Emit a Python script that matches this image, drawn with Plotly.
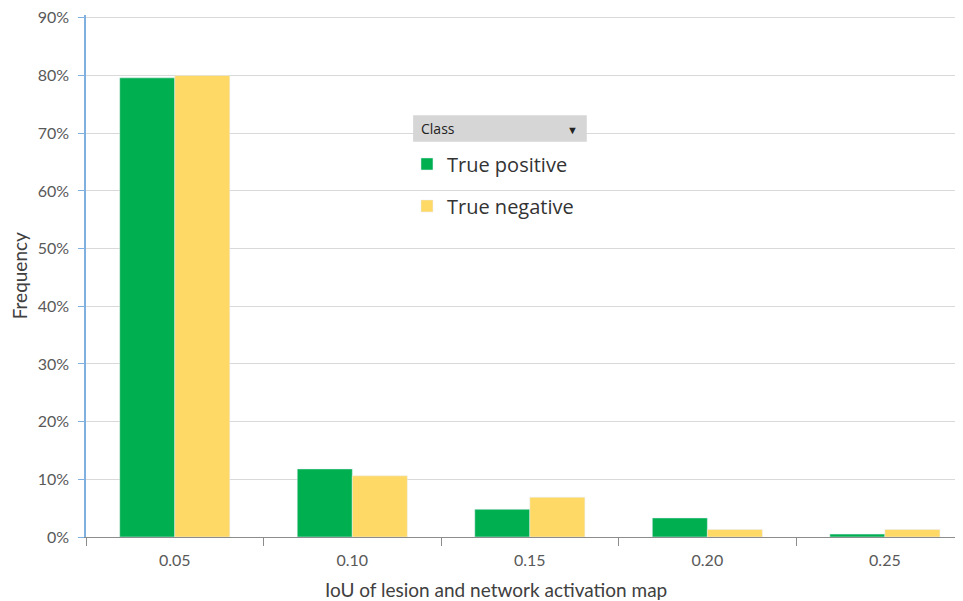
import plotly.graph_objects as go

# 数据
categories = ["0.05", "0.10", "0.15", "0.20", "0.25"]
true_positive = [0.796, 0.118, 0.048, 0.033, 0.005]
true_negative = [0.800, 0.106, 0.069, 0.013, 0.013]

GREEN = "#00B050"
YELLOW = "#FFD966"
GREY_TXT = "#595959"

fig = go.Figure()
fig.add_trace(go.Bar(x=categories, y=true_positive, name="True positive",
                     marker_color=GREEN, legendgroup="tp"))
fig.add_trace(go.Bar(x=categories, y=true_negative, name="True negative",
                     marker_color=YELLOW, legendgroup="tn"))

# 页面 body 默认有 8px 外边距，这里整体补偿
fig.update_layout(
    width=955, height=593,
    margin=dict(l=78, r=0, t=7, b=64, autoexpand=False),
    plot_bgcolor="white", paper_bgcolor="white",
    barmode="group", bargap=0.38, bargroupgap=0,
    font=dict(family="Lato, Open Sans, sans-serif", size=16, color=GREY_TXT),
    legend=dict(
        x=0.366, y=0.752, xanchor="left", yanchor="top",
        bgcolor="rgba(0,0,0,0)", traceorder="grouped", tracegroupgap=13,
        font=dict(family="Open Sans, sans-serif", size=20, color="#333333"),
        itemwidth=30,
    ),
    showlegend=True,
)

fig.update_xaxes(
    type="category", range=[-0.5, 4.44], automargin=False,
    showline=True, linecolor="#8c8c8c", linewidth=1,
    ticks="outside", tickson="boundaries", ticklen=8, tickcolor="#8c8c8c",
    showgrid=False, tickfont=dict(size=16, color=GREY_TXT),
    ticklabelstandoff=9,
)
fig.update_yaxes(
    range=[0, 0.905], tickvals=[i / 10 for i in range(10)], tickformat=".0%",
    automargin=False, ticklabeloverflow="allow",
    showline=True, linecolor="#7fb0e0", linewidth=1.5,
    ticks="outside", ticklen=6, tickcolor="#7fb0e0",
    showgrid=True, gridcolor="#d9d9d9", gridwidth=1,
    zeroline=False, tickfont=dict(size=16, color=GREY_TXT),
    ticklabelstandoff=6,
)

# 坐标轴标题
fig.add_annotation(text="IoU of lesion and network activation map",
                   xref="paper", yref="paper", x=0.4675, y=-0.1015,
                   showarrow=False, yanchor="middle",
                   font=dict(size=19, color="#404040"))
fig.add_annotation(text="Frequency", textangle=-90,
                   xref="paper", yref="paper", x=-0.076, y=0.5,
                   xanchor="center", yanchor="middle", showarrow=False,
                   font=dict(size=19, color="#404040"))

# 图例标题框 "Class"
fig.add_shape(type="rect", xref="paper", yref="paper",
              x0=0.373, x1=0.571, y0=0.757, y1=0.808,
              fillcolor="#d6d6d6", line=dict(width=0), layer="above")
fig.add_annotation(text="Class", xref="paper", yref="paper",
                   x=0.380, y=0.783, xanchor="left", yanchor="middle",
                   showarrow=False,
                   font=dict(family="Open Sans, sans-serif", size=14, color="#222222"))
fig.add_annotation(text="▼", xref="paper", yref="paper",
                   x=0.555, y=0.781, xanchor="center", yanchor="middle",
                   showarrow=False, font=dict(size=11, color="#222222"))

fig.write_html("out.html")
